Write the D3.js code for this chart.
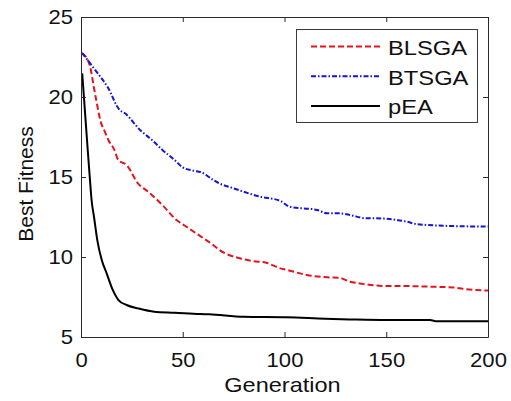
<!DOCTYPE html>
<html><head><meta charset="utf-8">
<script src="https://cdn.jsdelivr.net/npm/d3@7"></script>
<style>html,body{margin:0;padding:0;background:#fff;}svg{display:block;}</style>
</head><body>
<svg id="chart" width="511" height="401"></svg>
<script>
// ---- data ----
const seriesNames = ["BLSGA", "BTSGA", "pEA"];
const blsgaGen = [0.5,4,7.2,9.8,11.5,13.5,16.4,18.3,22.4,28,33,40,46,53,59,65,68,78,84,91,98,101,111,121,127,132,137,150,157,173,183,186,200];
const blsgaFit = [22.75,22.1,20.0,18.4,17.9,17.3,16.7,16.06,15.75,14.6,14.08,13.25,12.42,11.79,11.27,10.75,10.44,9.92,9.75,9.64,9.29,9.2,8.875,8.73,8.7,8.46,8.35,8.19,8.19,8.14,8.1,8.04,7.9];
const btsgaGen = [0.5,7.5,13,19,21.6,29,35,40,46,50,55,59,65,68,75,88,98,102.6,116,121,127,132,140,144,160,165,181,200];
const btsgaFit = [22.75,21.6,20.64,19.19,18.98,17.94,17.3,16.69,16.06,15.6,15.4,15.3,14.81,14.6,14.29,13.77,13.5,13.14,12.94,12.73,12.73,12.63,12.42,12.42,12.21,12.06,11.94,11.9];
const peaGen = [0.6,3.3,4.3,5.2,6.4,8,10.2,12.6,15.6,18.4,22.4,28,36,46,58.5,63,80,101,120,132,150,171.5,175,200];
const peaFit = [21.48,16.7,15,13.56,12.5,11.06,9.81,8.98,7.94,7.31,7.0,6.79,6.58,6.52,6.44,6.42,6.26,6.23,6.14,6.1,6.06,6.06,5.98,5.98];
const xTicks = [0, 50, 100, 150, 200];
const yTicks = [5, 10, 15, 20, 25];
const xLabel = "Generation";
const yLabel = "Best Fitness";

const series = [
  {name: seriesNames[0], gen: blsgaGen, fit: blsgaFit, color: "#e3141e", dash: "6,3"},
  {name: seriesNames[1], gen: btsgaGen, fit: btsgaFit, color: "#1414d8", dash: "5,2,1.5,2"},
  {name: seriesNames[2], gen: peaGen, fit: peaFit, color: "#000000", dash: null}
];

const svg = d3.select("#chart");
const FONT = "'Liberation Sans', Arial, Helvetica, sans-serif";
const L = 81, R = 488, T = 17, B = 337;
const x = d3.scaleLinear().domain([0, 200]).range([L, R]);
const y = d3.scaleLinear().domain([5, 25]).range([B, T]);

function stretch(sel, f) {
  sel.each(function () {
    const len = this.getComputedTextLength();
    d3.select(this).attr("textLength", len * f).attr("lengthAdjust", "spacingAndGlyphs");
  });
}

// lines
const line = d3.line().x(d => x(d[0])).y(d => y(d[1])).curve(d3.curveMonotoneX);
const g = svg.append("g");
series.forEach(s => {
  const pts = s.gen.map((v, i) => [v, s.fit[i]]);
  g.append("path").datum(pts).attr("d", line)
    .attr("fill", "none").attr("stroke", s.color).attr("stroke-width", 2)
    .attr("stroke-dasharray", s.dash).attr("stroke-linejoin", "round");
});

// axes
const axisColor = "#2a2a2a";
function styleAxis(a) {
  a.select(".domain").attr("stroke", axisColor);
  a.selectAll(".tick line").attr("stroke", axisColor);
  a.selectAll("text").attr("fill", "#111").style("font-family", FONT).style("font-size", "21px");
}
const xb = svg.append("g").attr("transform", `translate(0,${B})`)
  .call(d3.axisBottom(x).tickValues(xTicks).tickSizeInner(-5).tickSizeOuter(0).tickPadding(15));
styleAxis(xb);
const yl = svg.append("g").attr("transform", `translate(${L},0)`)
  .call(d3.axisLeft(y).tickValues(yTicks).tickSizeInner(-5).tickSizeOuter(0).tickPadding(8));
styleAxis(yl);
const xt = svg.append("g").attr("transform", `translate(0,${T})`)
  .call(d3.axisTop(x).tickValues(xTicks).tickSizeInner(-5).tickSizeOuter(0).tickFormat(""));
styleAxis(xt);
const yr = svg.append("g").attr("transform", `translate(${R},0)`)
  .call(d3.axisRight(y).tickValues(yTicks).tickSizeInner(-5).tickSizeOuter(0).tickFormat(""));
styleAxis(yr);
svg.selectAll(".tick text").attr("font-family", null);
stretch(xb.selectAll(".tick text"), 1.05);
stretch(yl.selectAll(".tick text"), 1.05);

// axis titles
const xt2 = svg.append("text").attr("x", (L + R) / 2 - 2).attr("y", 392)
  .attr("text-anchor", "middle").style("font-family", FONT).style("font-size", "21px")
  .attr("fill", "#111").text(xLabel);
stretch(xt2, 1.12);
svg.append("text").attr("transform", `translate(33,184) rotate(-90)`)
  .attr("text-anchor", "middle").style("font-family", FONT).style("font-size", "21px")
  .attr("fill", "#111").text(yLabel);

// legend
const lg = svg.append("g");
lg.append("rect").attr("x", 296.5).attr("y", 29.5).attr("width", 181).attr("height", 93)
  .attr("fill", "#fff").attr("stroke", "#3a3a3a").attr("stroke-width", 1);
series.forEach((s, i) => {
  const cy = 46.5 + i * 29.7;
  lg.append("line").attr("x1", 311).attr("x2", 380).attr("y1", cy).attr("y2", cy)
    .attr("stroke", s.color).attr("stroke-width", 2).attr("stroke-dasharray", s.dash);
  const t = lg.append("text").attr("x", 388).attr("y", cy + 8.3)
    .style("font-family", FONT).style("font-size", "21px").attr("fill", "#111").text(s.name);
  stretch(t, 1.13);
});
</script>
</body></html>
